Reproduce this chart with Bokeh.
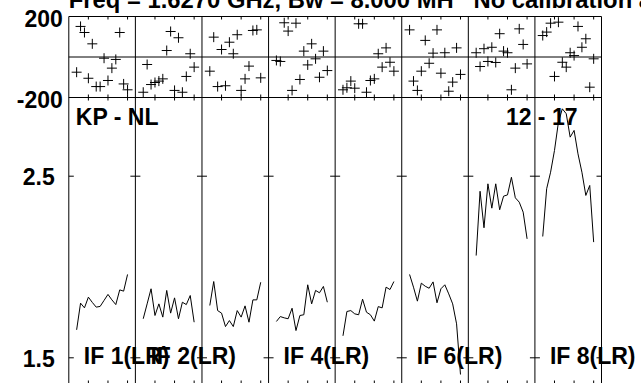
from bokeh.plotting import figure
from bokeh.models import Range1d, Label
from bokeh.embed import file_html
from bokeh.resources import INLINE

# ---------------- data ----------------
channels = [2, 3, 4, 5, 6, 7, 8, 9, 10, 11, 12, 13, 14, 15]
ch_per_panel = 17
channel_ticks = [5, 10, 15]
n_if = 8

amp_ticks = [1.5, 2.5]
amp_tick_labels = ["1.5", "2.5"]
phase_ticks = [-200, 200]
phase_tick_labels = ["-200", "200"]

title_text = "Freq = 1.6270 GHz, Bw = 8.000 MH\u00a0\u00a0 No calibration applied"
baseline_text = "KP - NL"
time_text = "12 - 17"
if_labels = ["IF 1(LR)", "IF 2(LR)", "IF 4(LR)", "IF 6(LR)", "IF 8(LR)"]
if_label_panels = [1, 2, 4, 6, 8]

amp_if1 = [1.654, 1.801, 1.775, 1.834, 1.805, 1.779, 1.783, 1.816, 1.849, 1.819, 1.793, 1.874, 1.867, 1.959]
amp_if2 = [1.715, 1.797, 1.880, 1.733, 1.797, 1.724, 1.871, 1.746, 1.830, 1.715, 1.806, 1.793, 1.843, 1.696]
amp_if3 = [1.788, 1.920, 1.760, 1.746, 1.672, 1.705, 1.672, 1.760, 1.724, 1.786, 1.696, 1.819, 1.819, 1.916]
amp_if4 = [1.700, 1.727, 1.720, 1.715, 1.773, 1.650, 1.733, 1.737, 1.902, 1.797, 1.871, 1.858, 1.893, 1.806]
amp_if5 = [1.621, 1.755, 1.760, 1.742, 1.737, 1.823, 1.751, 1.737, 1.702, 1.782, 1.775, 1.889, 1.876, 1.920]
amp_if6 = [1.959, 1.889, 1.812, 1.911, 1.894, 1.883, 1.918, 1.803, 1.880, 1.902, 1.852, 1.797, 1.687, 1.408]
amp_if7 = [2.063, 2.417, 2.216, 2.458, 2.324, 2.458, 2.315, 2.390, 2.397, 2.494, 2.381, 2.357, 2.302, 2.155]
amp_if8 = [2.168, 2.431, 2.522, 2.642, 2.797, 2.871, 2.844, 2.715, 2.752, 2.623, 2.522, 2.394, 2.449, 2.137]

phase_if1 = [-75, 151, 121, -105, 65, -146, -146, -6, -116, -55, -12, 121, -133, -162]
phase_if2 = [-174, -37, -136, -126, -119, -108, 32, 126, -165, 95, -174, -96, 16, -50]
phase_if3 = [-70, 98, -146, 37, -142, 73, 16, 110, -165, -108, -45, 131, 134, -103]
phase_if4 = [-17, -22, 169, 128, -165, 167, -111, 29, -39, 65, -9, -100, 29, -67]
phase_if5 = [-162, -152, -119, -154, 164, 164, -174, -116, -108, 16, -50, 45, -26, -70]
phase_if6 = [134, -119, -165, -70, 82, -31, 19, 134, -80, 21, -169, -124, 45, -86]
phase_if7 = [21, -47, 41, -22, 48, -27, 115, 29, 21, -162, -55, 139, 62, -34]
phase_if8 = [106, 123, 167, -96, 172, -26, -50, 21, 7, 151, 48, 90, -149, -9]

amps = [amp_if1, amp_if2, amp_if3, amp_if4, amp_if5, amp_if6, amp_if7, amp_if8]
phases = [phase_if1, phase_if2, phase_if3, phase_if4, phase_if5, phase_if6, phase_if7, phase_if8]

# ---------------- layout (page pixels) ----------------
W, H = 645, 387
CX, CY = -4.0, -4.0           # page position of the canvas
X0_PX, X1_PX = 68.3, 601.0    # first / last panel edge
X_TOTAL = n_if * ch_per_panel
PX_PER_CH = (X1_PX - X0_PX) / X_TOTAL
PH_TOP_PX, PH_BOT_PX = 16.0, 97.0
A_HI_PX, A_LO_PX = 175.7, 357.3
BOT_PX = 384.5
TXT_DY = -8.0                 # correction for where the renderer puts text


def x_at(px):
    return (px - X0_PX) / PX_PER_CH


def amp_at(py):
    return amp_ticks[1] + (A_HI_PX - py) * (amp_ticks[1] - amp_ticks[0]) / (A_LO_PX - A_HI_PX)


def ph_at(py):
    return phase_ticks[1] - (py - PH_TOP_PX) * (phase_ticks[1] - phase_ticks[0]) / (PH_BOT_PX - PH_TOP_PX)


p = figure(width=W, height=H, output_backend="svg", toolbar_location=None,
           x_axis_type=None, y_axis_type=None,
           x_range=Range1d(x_at(CX), x_at(CX + W)),
           y_range=Range1d(amp_at(CY + H), amp_at(CY)),
           min_border_left=0, min_border_right=0,
           min_border_top=0, min_border_bottom=0,
           outline_line_color=None, background_fill_color="white",
           border_fill_color="white")
p.margin = (-4, -4, -4, -4)
p.extra_y_ranges = {"phase": Range1d(ph_at(CY + H), ph_at(CY))}

BLACK = "black"

# panel boundaries (vertical)
xb = [i * ch_per_panel for i in range(n_if + 1)]
p.segment(x0=xb, x1=xb, y0=[amp_at(BOT_PX)] * len(xb), y1=[amp_at(PH_TOP_PX)] * len(xb),
          line_color=BLACK, line_width=1)
# phase panel horizontal lines
p.segment(x0=[0, 0, 0], x1=[X_TOTAL] * 3, y0=[phase_ticks[1], 0, phase_ticks[0]],
          y1=[phase_ticks[1], 0, phase_ticks[0]], line_color=BLACK, line_width=1,
          y_range_name="phase")

# channel ticks
tx = [i * ch_per_panel + c for i in range(n_if) for c in channel_ticks]
n = len(tx)
p.segment(x0=tx, x1=tx, y0=[ph_at(PH_TOP_PX)] * n, y1=[ph_at(PH_TOP_PX + 3)] * n,
          line_color=BLACK, line_width=1, y_range_name="phase")
p.segment(x0=tx, x1=tx, y0=[ph_at(PH_BOT_PX - 3)] * n, y1=[ph_at(PH_BOT_PX + 3)] * n,
          line_color=BLACK, line_width=1, y_range_name="phase")
p.segment(x0=tx, x1=tx, y0=[amp_at(BOT_PX - 4.5)] * n, y1=[amp_at(BOT_PX)] * n,
          line_color=BLACK, line_width=1)
# amplitude ticks at panel edges (inside each panel)
half = 5.0 / PX_PER_CH
ax0, ax1, ay = [], [], []
for b in xb:
    for t in amp_ticks:
        ax0.append(max(b - half, 0))
        ax1.append(min(b + half, X_TOTAL))
        ay.append(t)
p.segment(x0=ax0, x1=ax1, y0=ay, y1=ay, line_color=BLACK, line_width=1)

# data
for i in range(n_if):
    xs = [i * ch_per_panel + c for c in channels]
    p.line(xs, amps[i], line_color=BLACK, line_width=1)
    p.scatter(xs, phases[i], marker="cross", size=10, line_color=BLACK, line_width=1,
              y_range_name="phase")

FONT = "Liberation Sans"


def lab(text, x, y, size, align="left", x_offset=0, y_offset=0, y_range_name="default"):
    p.add_layout(Label(x=x, y=y, text=text, text_font=FONT, text_font_style="bold",
                       text_font_size=f"{size}px", text_color=BLACK, text_align=align,
                       text_baseline="alphabetic", x_offset=x_offset,
                       y_offset=y_offset - TXT_DY, y_range_name=y_range_name))


lab(title_text, 0, amp_at(7), 23.8)
for t, s in zip(phase_ticks, phase_tick_labels):
    lab(s, 0, t, 23, align="right", x_offset=-6, y_offset=-10, y_range_name="phase")
for t, s in zip(amp_ticks, amp_tick_labels):
    lab(s, 0, t, 23, align="right", x_offset=-14, y_offset=-8.5)
lab(baseline_text, 0, amp_at(124), 23, x_offset=7)
lab(time_text, X_TOTAL, amp_at(124), 23, align="right", x_offset=-24)
for s, k in zip(if_labels, if_label_panels):
    lab(s, (k - 1) * ch_per_panel, amp_at(363.5), 23, x_offset=15)

open("out.html", "w").write(file_html(p, INLINE))
